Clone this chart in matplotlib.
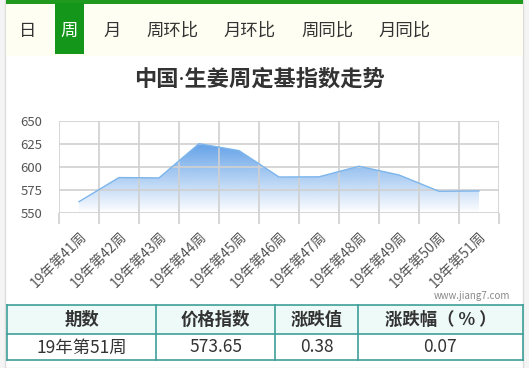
import matplotlib
matplotlib.use('Agg')
import matplotlib.pyplot as plt
import matplotlib.transforms as mtransforms
import numpy as np
from matplotlib.patches import Rectangle, Polygon

plt.rcParams['font.family'] = ['Noto Sans CJK SC', 'DejaVu Sans']

# data
weeks = ['19年第41周', '19年第42周', '19年第43周', '19年第44周', '19年第45周', '19年第46周',
         '19年第47周', '19年第48周', '19年第49周', '19年第50周', '19年第51周']
index_vals = [562.0, 588.2, 587.8, 625.0, 617.5, 588.8, 589.0, 600.5, 591.0, 573.27, 573.65]
y_ticks = [550, 575, 600, 625, 650]

tabs = ['日', '周', '月', '周环比', '月环比', '周同比', '月同比']
tab_x = [28, 69, 112, 172, 250, 327, 405]

table_head = ['期数', '价格指数', '涨跌值', '涨跌幅（ % ）']
table_row = ['19年第51周', '573.65', '0.38', '0.07']
col_edges = [7, 156, 275, 358, 523]

W, H = 529, 368
fig = plt.figure(figsize=(W / 100, H / 100), dpi=100)
fig.patch.set_facecolor('#f4f4f4')

# overlay in pixel coords
bg = fig.add_axes([0, 0, 1, 1])
bg.set_xlim(0, W)
bg.set_ylim(H, 0)
bg.axis('off')

bg.add_patch(Rectangle((5, 0), 518, H, facecolor='white', edgecolor='#dcdcdc', lw=1))
bg.add_patch(Rectangle((6, 3), 517, 53, facecolor='#fefef2', edgecolor='none'))
bg.add_patch(Rectangle((6, 0), 517, 3.5, facecolor='#1f9a1f', edgecolor='none'))
for name, x in zip(tabs, tab_x):
    if name == '周':
        bg.add_patch(Rectangle((55, 3), 29, 51, facecolor='#14961a', edgecolor='none'))
        bg.text(x, 31, name, color='white', fontsize=12.5, ha='center', va='center')
    else:
        bg.text(x, 31, name, color='#333333', fontsize=12.5, ha='center', va='center')

bg.text(259, 80, '中国·生姜周定基指数走势', fontsize=16, fontweight='bold',
        color='#333333', ha='center', va='center',
        family=['Noto Sans', 'Noto Sans CJK SC'])

bg.text(510, 296, 'www.jiang7.com', fontsize=7, color='#888888', ha='right', va='center')

# table
bg.add_patch(Rectangle((7, 305), 516, 29, facecolor='#eefaf7', edgecolor='none'))
teal = '#3e9f98'
for yy in [305, 334, 360]:
    bg.plot([7, 523], [yy, yy], color=teal, lw=1.2)
for xx in col_edges:
    bg.plot([xx, xx], [305, 360], color=teal, lw=1.2)
for i in range(4):
    cx = (col_edges[i] + col_edges[i + 1]) / 2
    bg.text(cx, 320, table_head[i], fontsize=12.5, fontweight='bold', color='#333333',
            ha='center', va='center')
    bg.text(cx, 347.5, table_row[i], fontsize=12.5, color='#333333', ha='center', va='center')

# chart
ax = fig.add_axes([59 / W, (H - 212.7) / H, 440 / W, 92 / H])
ax.set_facecolor('none')
x = np.arange(len(weeks))
ax.set_xlim(-0.5, len(weeks) - 0.5)
ax.set_ylim(550, 650)

# gradient fill
grad = np.linspace(0, 1, 256)[:, None]
rgba = np.zeros((256, 1, 4))
rgba[..., 0] = 0.40
rgba[..., 1] = 0.64
rgba[..., 2] = 0.91
rgba[..., 3] = np.clip(grad * 1.35, 0, 0.97)
im = ax.imshow(rgba, extent=[x[0], x[-1], 550, 650], origin='lower', aspect='auto', zorder=1)
poly = Polygon(np.column_stack([np.r_[x[0], x, x[-1]], np.r_[550, index_vals, 550]]),
               closed=True, facecolor='none', edgecolor='none')
ax.add_patch(poly)
im.set_clip_path(poly)
ax.plot(x, index_vals, color='#7cb5ec', lw=1, zorder=3)

ax.set_yticks(y_ticks)
ax.set_xticks(x)
ax.set_xticklabels(weeks, rotation=45, ha='right', va='top', rotation_mode='anchor',
                   fontsize=10, color='#555555')
shift = mtransforms.ScaledTranslation(-16 / 100, 4 / 100, fig.dpi_scale_trans)
for lab in ax.get_xticklabels():
    lab.set_transform(lab.get_transform() + shift)
ax.set_xticks(np.arange(len(weeks) + 1) - 0.5, minor=True)
ax.tick_params(axis='x', which='major', length=0, pad=12)
ax.tick_params(axis='x', which='minor', length=8, color='#d0d0d0', width=1.2)
ax.tick_params(axis='y', length=0, pad=12, labelsize=9.5, labelcolor='#555555')
ax.grid(axis='y', color='#d0d0d0', lw=1.2, zorder=0)
ax.grid(axis='x', which='minor', color='#d0d0d0', lw=1.2, zorder=0)
for s in ax.spines.values():
    s.set_visible(False)

fig.savefig('out.png', dpi=100)
